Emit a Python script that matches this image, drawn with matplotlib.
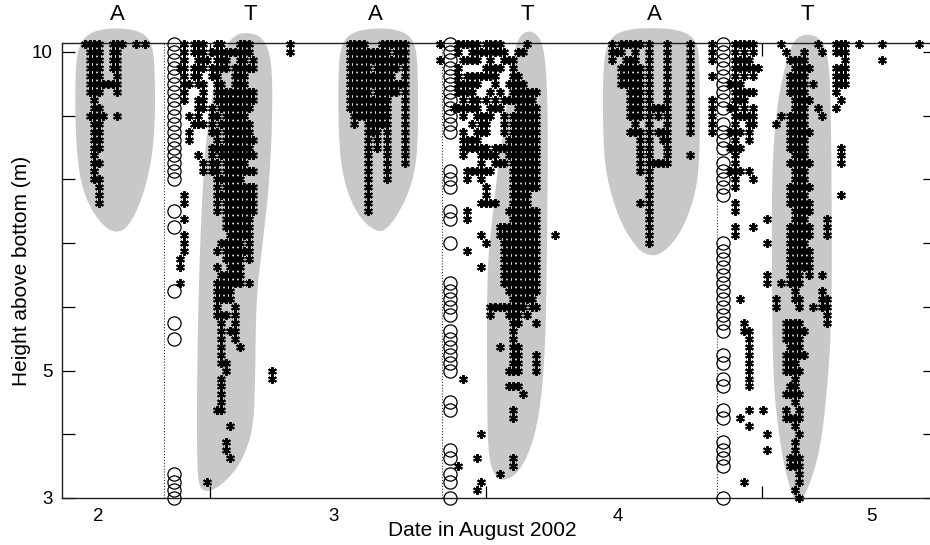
import numpy as np
import matplotlib.pyplot as plt
from matplotlib.patches import Polygon

plt.rcParams['font.family'] = ['Liberation Sans', 'DejaVu Sans']

# -----------------------------
# Data (time in days of August 2002, height in m)
# -----------------------------
dt = 1 / 60      # spacing of echo columns (days)
dz = 0.125       # vertical bin (m)
z_top = 10.125   # height of the first row

# each cluster: start time + one string per row (top down) listing filled columns
a1_t0 = 2.547
a1_rows = ["0-3 6-8 11 13", "1-3 6-7", "1-3 6-7", "1-3 6-7", "1-3 7", "1-7", "1-3 7",
           "2", "2-3", "1-4 7", "2-3", "2-3", "2-3", "2-3", "2", "2-3", "2", "2-3",
           "3", "3", "3"]

t1_t0 = 2.891
t1_rows = ["1 3-5 8-9 13-15 24", "1 3-5 7-15 24", "1 4-6 8-10 13-14 16", "0-1 3-5 7-10 12-16",
           "1 3-4 7-8 12-14", "1-2 4-5 8-9 12-14", "1 5 8-16", "1 4-5 8-16", "4-5 7 9-15",
           "2 4 7-8 10-14", "3-5 7 9-15", "2 7-8 10-15", "2 8 10-16", "7-15", "4 7 9-16",
           "5 7-8 10-14", "5 7-8 10-16", "8-13", "8 10-16", "1 8-16", "1 8 10-16", "8 10-16",
           "1 10-15", "10-15", "1 11-15", "1 9-13 15", "1 8 10-15", "0 10-13 15", "0 8 11-13",
           "9-13", "0 8-13 15", "8-11", "8-11", "8 12", "8-10 12", "9 12", "9 11-12", "9 12",
           "9 13", "9", "9-10", "10 20", "9 20", "9", "9", "9", "8-9", "", "11", "", "10",
           "10", "11", "", "", "6"]

a2_t0 = 3.507
a2_rows = ["0-3 7-12", "0-8 10-12", "0-12", "0-4 6-10 12", "0-9 12", "0-12", "0-4 6-10 12",
           "0-8 12", "0-8 12", "1-8 12", "1 4-8 12", "4-6 8 12", "4 6 8 12", "4 6 8 12",
           "4 8 12", "4 8 12", "4 8", "4 8", "4", "4", "4", "4"]

t2_t0 = 3.833
t2_rows = ["0 4-8 10-13 19", "4 7-14 17-18", "0 5-8 11 14-16", "4 10-13 16", "4 6-12 16-17",
           "4-8 12 15-18", "4-7 11 13 16-21", "5 7-8 10 12 14-20", "3-8 11-13 17-21",
           "5 8-11 14 16-21", "7 9-10 14 16-21", "5 8-10 14 16-21", "5-8 15-21", "5-10 12-21",
           "5 9-12 15-21", "9 12-14 16-21", "6-11 16-21", "6 9 16-21", "10 16-21", "10 16-19",
           "9-12 16-19", "6 15-21", "6 16-21", "13-21", "9 13-21 25", "10 14-21", "6 14-21",
           "14-21", "9 14-21", "14-21", "14-21", "15-21", "16-20", "11-18 20-21", "11 15-17 19",
           "16-17 21", "16", "16", "13 16-17", "16-17 21", "16-17 21", "15-17 21", "5", "15-17",
           "18", "", "16", "16", "", "9", "", "", "8 16", "4 16", "13", "9", "8"]

a3_t0 = 4.457
a3_rows = ["0 2-6 8 12 17", "0-2 5 8 12 17", "0 3-5 8 12 17", "2-6 8 12 17", "2-6 8 12 17",
           "2-6 8 12 17", "4-6 8 12 17", "4-6 8 12 17", "4-6 8-12 17", "4-6 8 10 12 17",
           "5 8 12 17", "4-6 8 10-12 17", "6 8 11-12", "6 8 12", "6 8 12 17", "6 8-12", "6 8",
           "8", "8", "8", "6 8", "8", "8", "8", "8", "8"]

t3_t0 = 4.819
t3_rows = ["0 5-9 15 23 27-29 32 37 45", "0 5 7 9 16 20 24 27-29", "0 5-8 17-20 29 37",
           "5-10 18-21 27-29", "0 5 7 9 17-20 27-29", "4-6 17-20 22 27-29", "5-9 17-20 27",
           "0 5-7 18-21 28", "0 4-5 7 9 18-20 23 27", "0 5-9 15 17-20 24", "0 5 8-9 14 17-20",
           "0 4-6 8 17-21", "5 8 17-20", "4-6 17-20 28", "5 18-20 28", "5 17-21 28",
           "4-6 8 18-20", "5 9 18-20", "5 17-21", "17-20 28", "5 17-21", "5 18-21",
           "12 18-20 25", "5 9 17-21 25", "5 17-21 25", "12 17-20", "17-21", "17-21", "17-21",
           "12 17-19 21 24", "12 15 17-19", "18 24", "6 14 18-19 24-25", "14 19 22 24-25", "25",
           "7 16-19 25", "7-8 16-20", "8 16-19", "8 17-19", "8 16-20", "8 16-18", "8 16-19",
           "8 18", "8 17-18", "16-19", "18", "8 11 16 19", "6 16-19", "8 18", "12 19", "18",
           "12 18", "17-19", "17-19", "19", "7 19", "18", "19"]

# open circles: time of each column and the rows that are filled
circle_t = [2.870, 3.870, 4.859]
circle_rows = ["0-17 21 23 31 35 37 54-57",
               "0-11 16-18 21-22 25 30-34 36-41 45-46 51-52 54-55 57",
               "0-8 10-13 15-19 25-36 39-40 42-43 46-47 50-53 57"]

dusk_t = [2.833, 3.841, 4.837]

# shaded regions (time, height outlines)
a1_blob = [(2.663, 10.38), (2.746, 10.33), (2.790, 10.16), (2.801, 9.72), (2.801, 8.78),
           (2.783, 8.15), (2.746, 7.60), (2.703, 7.25), (2.663, 7.16), (2.620, 7.24),
           (2.565, 7.55), (2.529, 7.99), (2.514, 8.62), (2.511, 9.56), (2.522, 10.11),
           (2.572, 10.33)]
t1_blob = [(3.127, 10.31), (3.188, 10.25), (3.221, 9.95), (3.228, 9.25), (3.217, 7.99),
           (3.188, 6.89), (3.167, 6.11), (3.163, 4.54), (3.152, 3.99), (3.109, 3.52),
           (3.043, 3.20), (2.989, 3.09), (2.960, 3.17), (2.953, 3.59), (2.953, 4.85),
           (2.960, 6.42), (2.971, 7.68), (2.986, 8.62), (3.007, 9.32), (3.043, 9.95),
           (3.080, 10.24)]
a2_blob = [(3.616, 10.38), (3.699, 10.33), (3.743, 10.16), (3.754, 9.72), (3.754, 8.46),
           (3.732, 7.91), (3.681, 7.44), (3.634, 7.19), (3.598, 7.19), (3.543, 7.39),
           (3.493, 7.83), (3.467, 8.46), (3.464, 9.72), (3.478, 10.16), (3.525, 10.33)]
t2_blob = [(4.149, 10.35), (4.196, 10.25), (4.217, 9.87), (4.225, 8.93), (4.221, 6.73),
           (4.214, 5.16), (4.188, 4.11), (4.134, 3.47), (4.069, 3.25), (4.029, 3.36),
           (4.007, 3.67), (4.004, 4.85), (4.004, 6.58), (4.022, 7.36), (4.043, 8.15),
           (4.069, 8.93), (4.091, 9.72), (4.112, 10.19)]
a3_blob = [(4.594, 10.38), (4.703, 10.35), (4.764, 10.19), (4.775, 9.80), (4.775, 8.23),
           (4.754, 7.68), (4.703, 7.13), (4.638, 6.83), (4.594, 6.80), (4.551, 6.89),
           (4.486, 7.33), (4.438, 7.99), (4.424, 8.62), (4.424, 9.87), (4.449, 10.22),
           (4.504, 10.35)]
t3_blob = [(5.149, 10.28), (5.203, 10.25), (5.236, 10.03), (5.250, 9.40), (5.254, 6.58),
           (5.250, 5.64), (5.239, 4.85), (5.217, 3.91), (5.181, 3.28), (5.130, 2.84),
           (5.091, 3.28), (5.062, 3.96), (5.040, 4.85), (5.036, 6.58), (5.036, 8.15),
           (5.054, 9.17), (5.087, 9.84), (5.112, 10.16)]

letters = ["A", "T", "A", "T", "A", "T"]
letter_t = [2.663, 3.145, 3.598, 4.149, 4.612, 5.163]

day_labels = ["2", "3", "4", "5"]
day_label_t = [2.594, 3.446, 4.478, 5.395]
height_ticks = [3, 4, 5, 6, 7, 8, 9, 10]
height_labels = ["3", "", "5", "", "", "", "", "10"]


# -----------------------------
# Helpers
# -----------------------------
def expand(spec):
    out = []
    for part in spec.split():
        if "-" in part:
            a, b = part.split("-")
            out.extend(range(int(a), int(b) + 1))
        else:
            out.append(int(part))
    return out


def cluster_points(t0, rows):
    ts, zs = [], []
    for r, spec in enumerate(rows):
        for c in expand(spec):
            ts.append(t0 + c * dt)
            zs.append(z_top - r * dz)
    return ts, zs


def smooth(pts, n=4):
    # Chaikin corner cutting for a closed outline
    p = np.asarray(pts, float)
    for _ in range(n):
        nxt = np.roll(p, -1, axis=0)
        q = 0.75 * p + 0.25 * nxt
        r = 0.25 * p + 0.75 * nxt
        p = np.empty((2 * len(p), 2))
        p[0::2] = q
        p[1::2] = r
    return p


# -----------------------------
# Plot
# -----------------------------
fig = plt.figure(figsize=(9.3, 5.45), dpi=100)
ax = fig.add_axes([62 / 930, 47 / 545, 873 / 930, 455 / 545])

for blob in [a1_blob, t1_blob, a2_blob, t2_blob, a3_blob, t3_blob]:
    ax.add_patch(Polygon(smooth(blob), closed=True, facecolor="#c8c8c8",
                         edgecolor="none", zorder=0.5, clip_on=False))

for t in dusk_t:
    ax.axvline(t, color="#333333", linestyle=(0, (1, 1.6)), linewidth=0.8, zorder=1)

for t0, rows in [(a1_t0, a1_rows), (t1_t0, t1_rows), (a2_t0, a2_rows),
                 (t2_t0, t2_rows), (a3_t0, a3_rows), (t3_t0, t3_rows)]:
    ts, zs = cluster_points(t0, rows)
    ax.plot(ts, zs, linestyle="none", marker=(6, 2, 0), markersize=6.3,
            markeredgewidth=1.45, color="black", clip_on=False, zorder=3)

for t, spec in zip(circle_t, circle_rows):
    zs = [z_top - r * dz for r in expand(spec)]
    ax.plot([t] * len(zs), zs, linestyle="none", marker="o", markersize=9.5,
            markerfacecolor="none", markeredgecolor="black", markeredgewidth=0.9,
            clip_on=False, zorder=4)

for letter, t in zip(letters, letter_t):
    ax.text(t, 10.58, letter, ha="center", va="center", fontsize=16, clip_on=False)

# Formatting
ax.set_xlim(2.464, 5.627)
ax.set_ylim(3, 10.14)

ax.set_yticks(height_ticks)
ax.set_yticklabels(height_labels)
ax.tick_params(axis="y", direction="in", length=9, width=0.9, left=True, right=True,
               labelsize=13.5, pad=7)

ax.set_xticks([3, 4, 5])
ax.set_xticklabels(["", "", ""])
ax.set_xticks(day_label_t, minor=True)
ax.set_xticklabels(day_labels, minor=True)
ax.tick_params(axis="x", which="major", direction="in", length=9, width=0.9,
               top=True, bottom=True)
ax.tick_params(axis="x", which="minor", length=0, labelsize=13.5, pad=7)

for s in ax.spines.values():
    s.set_linewidth(1.0)
    s.set_color("#222222")

ax.set_xlabel("Date in August 2002", fontsize=15)
ax.xaxis.set_label_coords(0.481, -0.05)
ax.set_ylabel("Height above bottom (m)", fontsize=15)
ax.yaxis.set_label_coords(-0.036, 0.5)

fig.savefig("out.png", dpi=100)
